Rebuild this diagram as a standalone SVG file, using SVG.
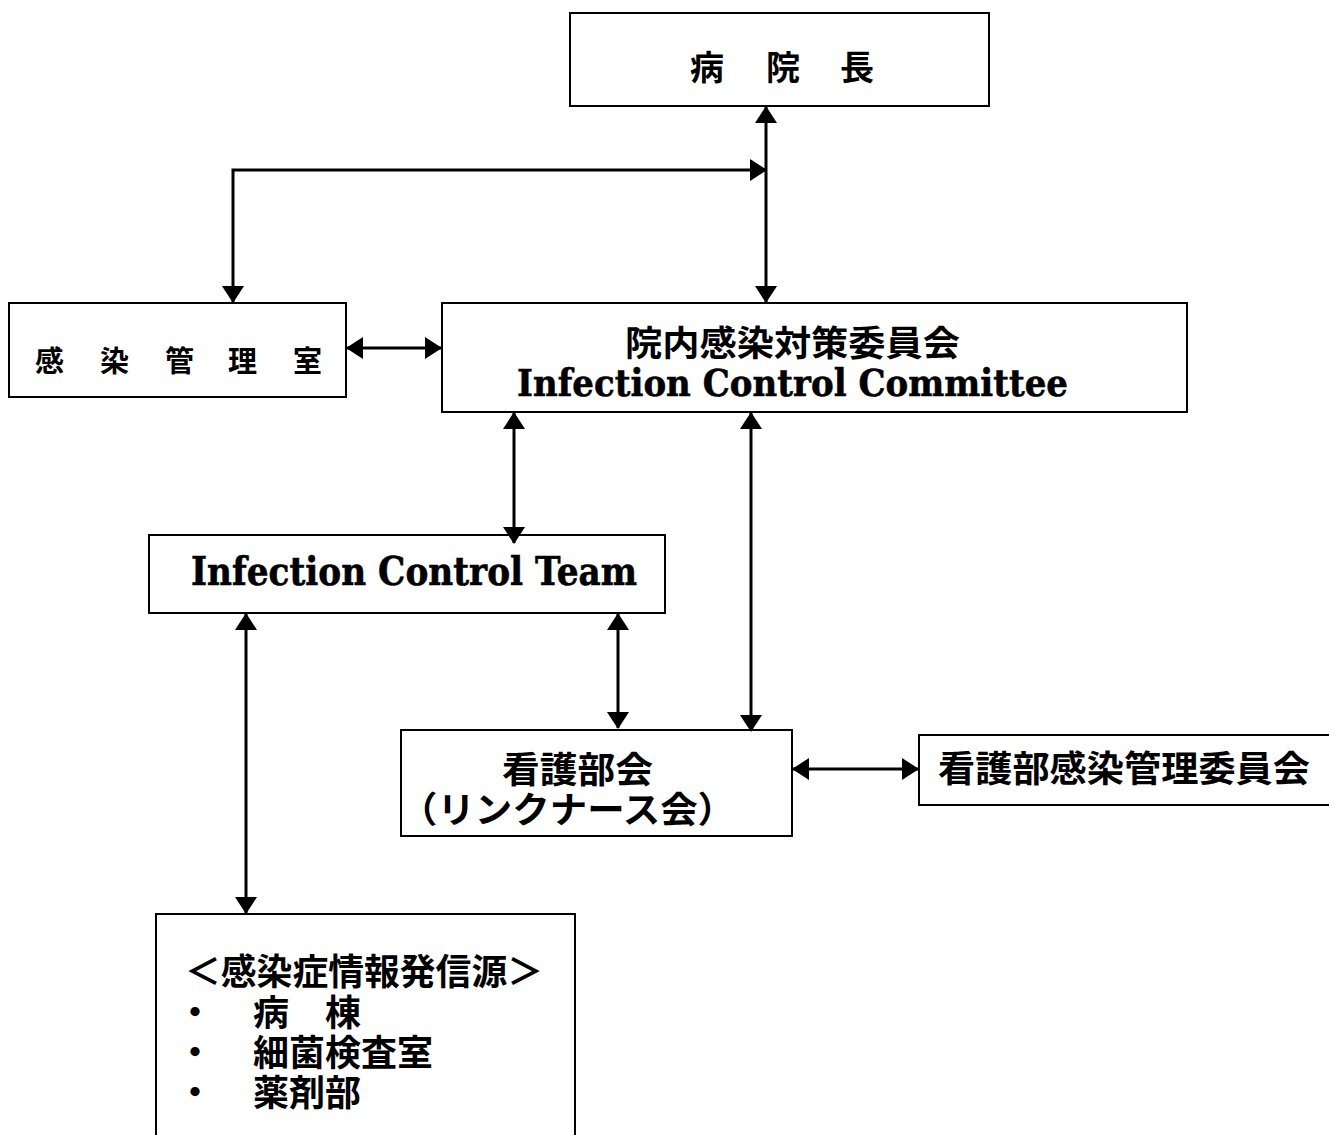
<svg xmlns="http://www.w3.org/2000/svg" width="1329" height="1135" viewBox="0 0 1329 1135">
<style>
.box{fill:#fff;stroke:#000;stroke-width:2}
.cj{font-family:"Noto Sans CJK JP","Noto Sans",sans-serif;font-weight:bold;fill:#000}
.en{font-family:"DejaVu Serif","Liberation Serif",serif;font-weight:bold;fill:#000;stroke:#000;stroke-width:0.6}
.c{fill:none;stroke:#000;stroke-width:3}
</style>
<defs>
<marker id="ah" markerUnits="userSpaceOnUse" markerWidth="17" markerHeight="22" refX="16" refY="11" orient="auto-start-reverse">
<path d="M0,0 L17,11 L0,22 z" fill="#000"/>
</marker>
</defs>
<rect width="1329" height="1135" fill="#fff"/>
<g id="n-director">
<rect class="box" x="570" y="13" width="419" height="93"/>
<text class="cj" font-size="34" x="690 766 840" y="80">病院長</text>
</g>
<g id="n-icr">
<rect class="box" x="9" y="303" width="337" height="94"/>
<text class="cj" font-size="29" x="35 100 165 228 293" y="372">感染管理室</text>
</g>
<g id="n-icc">
<rect class="box" x="442" y="303" width="745" height="109"/>
<text class="cj" font-size="35" x="625" y="356" textLength="335" lengthAdjust="spacingAndGlyphs">院内感染対策委員会</text>
<text class="en" font-size="38" x="517" y="396" textLength="551" lengthAdjust="spacingAndGlyphs">Infection Control Committee</text>
</g>
<g id="n-ict">
<rect class="box" x="149" y="535" width="516" height="78"/>
<text class="en" font-size="39" x="191" y="585" textLength="446" lengthAdjust="spacingAndGlyphs">Infection Control Team</text>
</g>
<g id="n-nursing">
<rect class="box" x="401" y="730" width="391" height="106"/>
<text class="cj" font-size="36" x="502" y="783" textLength="151" lengthAdjust="spacingAndGlyphs">看護部会</text>
<text class="cj" font-size="36" x="400" y="823" textLength="335" lengthAdjust="spacingAndGlyphs">（リンクナース会）</text>
</g>
<g id="n-nursing-icc">
<rect class="box" x="919" y="735" width="420" height="70"/>
<text class="cj" font-size="36" x="938" y="782" textLength="372" lengthAdjust="spacingAndGlyphs">看護部感染管理委員会</text>
</g>
<g id="n-sources">
<rect class="box" x="156" y="914" width="419" height="230"/>
<text class="cj" font-size="36" x="185" y="985" textLength="358" lengthAdjust="spacingAndGlyphs">＜感染症情報発信源＞</text>
<text class="cj" font-size="36" x="177 253 325" y="1026">・病棟</text>
<text class="cj" font-size="36" x="177 253" y="1066">・細菌検査室</text>
<text class="cj" font-size="36" x="177 253" y="1106">・薬剤部</text>
</g>
<g id="connectors">
<line class="c" x1="766" y1="107" x2="766" y2="302" marker-start="url(#ah)" marker-end="url(#ah)"/>
<polyline class="c" points="766,170 233,170 233,302" marker-start="url(#ah)" marker-end="url(#ah)"/>
<line class="c" x1="347" y1="348" x2="441" y2="348" marker-start="url(#ah)" marker-end="url(#ah)"/>
<line class="c" x1="514" y1="413" x2="514" y2="543" marker-start="url(#ah)" marker-end="url(#ah)"/>
<line class="c" x1="751" y1="413" x2="751" y2="731" marker-start="url(#ah)" marker-end="url(#ah)"/>
<line class="c" x1="618" y1="614" x2="618" y2="728" marker-start="url(#ah)" marker-end="url(#ah)"/>
<line class="c" x1="246" y1="614" x2="246" y2="913" marker-start="url(#ah)" marker-end="url(#ah)"/>
<line class="c" x1="793" y1="769" x2="918" y2="769" marker-start="url(#ah)" marker-end="url(#ah)"/>
</g>
</svg>
